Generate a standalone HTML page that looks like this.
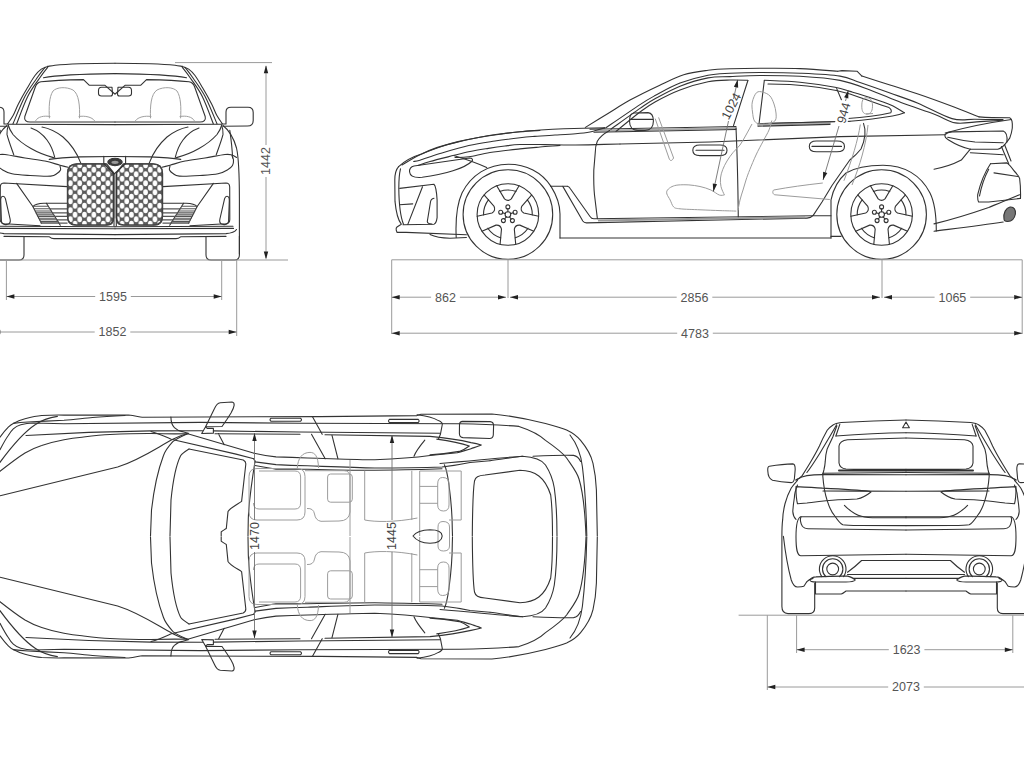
<!DOCTYPE html>
<html><head><meta charset="utf-8"><style>
html,body{margin:0;padding:0;background:#fff;}
body{width:1024px;height:768px;overflow:hidden;}
svg{display:block;}
.ln path,.ln circle,.ln ellipse,.ln rect{fill:none;stroke:#333;stroke-width:1.1;stroke-linejoin:round;stroke-linecap:round;}
.ln .hs{stroke:#555;stroke-width:1.2;}
.ln .hs2{stroke:#555;stroke-width:1.1;}
.ln path.g{stroke:#a0a0a0;stroke-width:1;}
.g path{fill:none;stroke:#9c9c9c;stroke-width:1;}
.d{fill:none;stroke:#9a9a9a;stroke-width:1;}
.dk{fill:none;stroke:#707070;stroke-width:0.9;}
.ar{fill:#222;stroke:none;}
text{font-family:"Liberation Sans",sans-serif;font-size:12.5px;fill:#555;}
.dt{fill:#444;}
</style></head><body>
<svg width="1024" height="768" viewBox="0 0 1024 768">
<defs>
<pattern id="mesh" x="68" y="163" width="9.4" height="9" patternUnits="userSpaceOnUse">
<rect width="9.4" height="9" fill="#5c5c5c"/>
<ellipse cx="2.35" cy="2.25" rx="2.3" ry="3.05" fill="#fff"/>
<ellipse cx="7.05" cy="6.75" rx="2.3" ry="3.05" fill="#fff"/>
<ellipse cx="7.05" cy="-2.25" rx="2.3" ry="3.05" fill="#fff"/>
<ellipse cx="2.35" cy="11.25" rx="2.3" ry="3.05" fill="#fff"/>
</pattern>
<clipPath id="cpL"><rect x="0" y="0" width="1024" height="768"/></clipPath>
</defs>
<g id="front" class="ln">
<g clip-path="url(#cpL)">

<path d="M115,73.6 C150,74 175,75.5 186.5,77.8"/>
<path d="M115.2,94 L125,85.3 L140.6,85.3 L146.5,79.6 C165,80 180,80.8 189,81.8 C192,82.3 193.5,84 194.5,86.5 L205.2,116.5 C206,120 204,122 200,122 L115,122"/>
<path d="M118,87.2 L128.5,87.2 Q131.5,87.2 131.5,90.5 L131.5,93.5 Q131.5,96 128.5,96 L119.5,96 Q117.5,96 117.5,94 Z"/>
<path d="M115,124.6 L221.6,124.2"/>
<path d="M221.6,124 L226,124 L226,112 Q226,107.2 231,107.2 L248,107.2 Q253.2,107.2 253.2,112.5 L253.2,120.5 Q253.2,126 247.5,126 L223,126.3"/>
<path d="M149.2,163.1 C153,153 159,144 167,137 C174,131.5 180,128.5 188,127"/>
<path d="M175.2,157.6 C177,150 180,144 183,140 C187,134.5 192,130.5 199,128"/>
<path d="M176.5,157.6 C186,155 193,152 199,148.5 C207,144 213,139 217,134.5 C219.5,131 221,128 221.6,125.5"/>
<path d="M216.2,154.9 C219,147 222,139 223,134.4 C223.2,130.5 222.5,127.5 221.6,125.5"/>
<path d="M223,125.5 C230,131 234,139 236.5,148 C238.6,157 239.4,170 239.4,200 L239.4,254"/>
<path d="M229.8,130.3 C231.2,140 232.3,150 232.6,158"/>
<path d="M162.9,186.6 L226,183 Q229.6,183 229.7,187 L229.8,219.5 Q229.8,223.4 225.5,223.8 L190,225.8"/>
<path d="M213.4,183.4 L197,206.7 L188.6,223.2"/>
<path d="M162.9,203.3 L186.1,203.3 Q194.5,203.5 197,206.7"/>
<path d="M183.6,203.3 L169.7,225.2"/>
<path class="hs" d="M162.9,208.8 L180.1,208.8 M162.9,212.9 L177.5,212.9 M162.9,216.4 L175.3,216.4 M162.9,219.8 L173.1,219.8 M162.9,223.1 L171.0,223.1"/>
<path class="hs2" d="M181.8,206.2 L197.3,206.2 M180.1,208.8 L195.9,208.8 M178.7,211.0 L194.8,211.0 M177.5,212.9 L193.9,212.9 M176.3,214.8 L192.9,214.8 M175.3,216.4 L192.1,216.4 M174.1,218.2 L191.2,218.2 M173.1,219.8 L190.4,219.8 M172.0,221.6 L189.5,221.6 M171.0,223.1 L188.8,223.1"/>
<path d="M227,196.2 C228.8,196.2 229.4,198 229.3,200.5 L228.6,221 C228.3,223.8 226.5,224.8 224,224.6 L221.5,224 C219.6,223.2 219.4,221.3 219.9,219 L224.6,198.6 C225.1,197 226,196.2 227,196.2 Z"/>
<path d="M115,226.8 L233,226.2"/>
<path d="M115,228.8 L233.5,228.4"/>
<path d="M115,234.6 L226,233.6 C231,233.2 234.5,232.5 236.5,229.5"/>
<path d="M115,238.6 L176,238.6 Q178.5,238.6 180.6,236.8 L226,236.4"/>
<path d="M206,237 L206,255 Q206,260 211,260 L234.5,260 Q239.4,260 239.4,255 L239.4,236"/>
<path d="M116.4,175.5 L116.4,218 Q116.4,225 123,225 L155,225 Q162.4,225 162.4,217 L162.4,173.5 Q162.4,163.8 152.5,163.8 L124.2,163.8 L116.4,174"/>
<path class="g" d="M150.5,117.9 C150,106 151,94 157,90 C164,86.5 173,87 177,91 C181,97 181.2,108 180.6,117.9 M135.5,120.6 C138,117 145,115.5 151,116.5 M180,116.5 C186,115.5 192,116.5 194.3,120.6"/>
<path d="M162.0,167.2 C163.3,166.9 166.2,166.2 170.0,165.2 C173.8,164.2 179.3,162.2 185.1,161.0 C190.9,159.8 198.3,159.1 205.0,158.0 C211.7,156.9 220.5,155.0 225.0,154.5 C229.5,154.0 230.1,154.5 232.0,155.0 C233.9,155.5 235.8,157.1 236.5,157.5"/><path d="M170.0,166.0 C169.9,166.7 169.0,168.8 169.5,170.0 C170.0,171.2 171.4,172.5 173.0,173.5 C174.6,174.5 174.8,175.8 179.3,176.1 C183.8,176.4 193.6,175.9 200.0,175.5 C206.4,175.1 213.3,174.8 218.0,173.8 C222.7,172.8 225.6,170.9 228.0,169.5 C230.4,168.1 231.6,167.2 232.5,165.6 C233.4,164.0 233.6,161.7 233.5,160.0 C233.4,158.3 232.2,156.2 232.0,155.5"/><path d="M115,156.5 L150,156.9 C165,157.5 175,158.5 180.8,159.4"/><path d="M115,63.3 C140,63.4 160,63.8 175,65.2 C178,65.6 180,66 182.3,66.4"/><path d="M182.3,66.4 C183.4,66.9 186.6,67.6 188.7,69.1 C190.8,70.6 192.7,72.5 195.0,75.5 C197.3,78.5 199.6,82.6 202.3,87.3 C205.1,92.0 209.1,99.1 211.5,103.8 C213.9,108.5 215.1,112.3 216.9,115.6 C218.7,118.9 221.5,122.4 222.4,123.8"/><path d="M182.3,67.3 C183.7,69.1 187.2,73.3 190.5,78.2 C193.8,83.1 198.5,88.9 202.3,96.5 C206.1,104.1 211.5,119.2 213.3,123.8"/><path d="M185.0,67.3 C186.4,69.1 189.8,73.3 193.2,78.2 C196.5,83.1 201.1,88.9 205.1,96.5 C209.1,104.1 215.0,119.2 217.0,123.8"/>
<g transform="translate(230,0) scale(-1,1)">
<path d="M115,73.6 C150,74 175,75.5 186.5,77.8"/>
<path d="M115.2,94 L125,85.3 L140.6,85.3 L146.5,79.6 C165,80 180,80.8 189,81.8 C192,82.3 193.5,84 194.5,86.5 L205.2,116.5 C206,120 204,122 200,122 L115,122"/>
<path d="M118,87.2 L128.5,87.2 Q131.5,87.2 131.5,90.5 L131.5,93.5 Q131.5,96 128.5,96 L119.5,96 Q117.5,96 117.5,94 Z"/>
<path d="M115,124.6 L221.6,124.2"/>
<path d="M221.6,124 L226,124 L226,112 Q226,107.2 231,107.2 L248,107.2 Q253.2,107.2 253.2,112.5 L253.2,120.5 Q253.2,126 247.5,126 L223,126.3"/>
<path d="M149.2,163.1 C153,153 159,144 167,137 C174,131.5 180,128.5 188,127"/>
<path d="M175.2,157.6 C177,150 180,144 183,140 C187,134.5 192,130.5 199,128"/>
<path d="M176.5,157.6 C186,155 193,152 199,148.5 C207,144 213,139 217,134.5 C219.5,131 221,128 221.6,125.5"/>
<path d="M216.2,154.9 C219,147 222,139 223,134.4 C223.2,130.5 222.5,127.5 221.6,125.5"/>
<path d="M223,125.5 C230,131 234,139 236.5,148 C238.6,157 239.4,170 239.4,200 L239.4,254"/>
<path d="M229.8,130.3 C231.2,140 232.3,150 232.6,158"/>
<path d="M162.9,186.6 L226,183 Q229.6,183 229.7,187 L229.8,219.5 Q229.8,223.4 225.5,223.8 L190,225.8"/>
<path d="M213.4,183.4 L197,206.7 L188.6,223.2"/>
<path d="M162.9,203.3 L186.1,203.3 Q194.5,203.5 197,206.7"/>
<path d="M183.6,203.3 L169.7,225.2"/>
<path class="hs" d="M162.9,208.8 L180.1,208.8 M162.9,212.9 L177.5,212.9 M162.9,216.4 L175.3,216.4 M162.9,219.8 L173.1,219.8 M162.9,223.1 L171.0,223.1"/>
<path class="hs2" d="M181.8,206.2 L197.3,206.2 M180.1,208.8 L195.9,208.8 M178.7,211.0 L194.8,211.0 M177.5,212.9 L193.9,212.9 M176.3,214.8 L192.9,214.8 M175.3,216.4 L192.1,216.4 M174.1,218.2 L191.2,218.2 M173.1,219.8 L190.4,219.8 M172.0,221.6 L189.5,221.6 M171.0,223.1 L188.8,223.1"/>
<path d="M227,196.2 C228.8,196.2 229.4,198 229.3,200.5 L228.6,221 C228.3,223.8 226.5,224.8 224,224.6 L221.5,224 C219.6,223.2 219.4,221.3 219.9,219 L224.6,198.6 C225.1,197 226,196.2 227,196.2 Z"/>
<path d="M115,226.8 L233,226.2"/>
<path d="M115,228.8 L233.5,228.4"/>
<path d="M115,234.6 L226,233.6 C231,233.2 234.5,232.5 236.5,229.5"/>
<path d="M115,238.6 L176,238.6 Q178.5,238.6 180.6,236.8 L226,236.4"/>
<path d="M206,237 L206,255 Q206,260 211,260 L234.5,260 Q239.4,260 239.4,255 L239.4,236"/>
<path d="M116.4,175.5 L116.4,218 Q116.4,225 123,225 L155,225 Q162.4,225 162.4,217 L162.4,173.5 Q162.4,163.8 152.5,163.8 L124.2,163.8 L116.4,174"/>
<path class="g" d="M150.5,117.9 C150,106 151,94 157,90 C164,86.5 173,87 177,91 C181,97 181.2,108 180.6,117.9 M135.5,120.6 C138,117 145,115.5 151,116.5 M180,116.5 C186,115.5 192,116.5 194.3,120.6"/>
<path d="M162.0,167.2 C163.3,166.9 166.2,166.2 170.0,165.2 C173.8,164.2 179.3,162.2 185.1,161.0 C190.9,159.8 198.3,159.1 205.0,158.0 C211.7,156.9 220.5,155.0 225.0,154.5 C229.5,154.0 230.1,154.5 232.0,155.0 C233.9,155.5 235.8,157.1 236.5,157.5"/><path d="M170.0,166.0 C169.9,166.7 169.0,168.8 169.5,170.0 C170.0,171.2 171.4,172.5 173.0,173.5 C174.6,174.5 174.8,175.8 179.3,176.1 C183.8,176.4 193.6,175.9 200.0,175.5 C206.4,175.1 213.3,174.8 218.0,173.8 C222.7,172.8 225.6,170.9 228.0,169.5 C230.4,168.1 231.6,167.2 232.5,165.6 C233.4,164.0 233.6,161.7 233.5,160.0 C233.4,158.3 232.2,156.2 232.0,155.5"/><path d="M115,156.5 L150,156.9 C165,157.5 175,158.5 180.8,159.4"/><path d="M115,63.3 C140,63.4 160,63.8 175,65.2 C178,65.6 180,66 182.3,66.4"/><path d="M182.3,66.4 C183.4,66.9 186.6,67.6 188.7,69.1 C190.8,70.6 192.7,72.5 195.0,75.5 C197.3,78.5 199.6,82.6 202.3,87.3 C205.1,92.0 209.1,99.1 211.5,103.8 C213.9,108.5 215.1,112.3 216.9,115.6 C218.7,118.9 221.5,122.4 222.4,123.8"/><path d="M182.3,67.3 C183.7,69.1 187.2,73.3 190.5,78.2 C193.8,83.1 198.5,88.9 202.3,96.5 C206.1,104.1 211.5,119.2 213.3,123.8"/><path d="M185.0,67.3 C186.4,69.1 189.8,73.3 193.2,78.2 C196.5,83.1 201.1,88.9 205.1,96.5 C209.1,104.1 215.0,119.2 217.0,123.8"/></g>
</g>
<path d="M77,164 L106.5,164 L113.4,172.8 L113.4,217.5 Q113.4,225 106,225 L76.6,225 Q67.6,225 67.6,216 L67.6,173.5 Q67.6,164 77,164 Z" style="fill:url(#mesh);stroke:#444;stroke-width:1.6"/>
<path d="M153,164 L123.5,164 L116.6,172.8 L116.6,217.5 Q116.6,225 124,225 L153.4,225 Q162.4,225 162.4,216 L162.4,173.5 Q162.4,164 153,164 Z" style="fill:url(#mesh);stroke:#444;stroke-width:1.6"/>

<path d="M103.8,156.3 L103.8,163.5 L114.2,174 L125.6,163.5 L125.6,156.3"/>
<ellipse cx="115" cy="162" rx="7.2" ry="3.7" style="fill:#3a3a3a"/>
<ellipse cx="115" cy="162.3" rx="3.6" ry="1.6" style="fill:#999;stroke:none"/>
<path d="M114,174 L114,226 M116.3,174 L116.3,226"/>

</g>
<g id="side" class="ln">

<path d="M398.6,166.6 C405,160.5 413,156.5 422.2,153.7 C433,148.5 444,145 454.4,142.9 C468,139.5 483,136.3 497.4,134.3 C512,132.3 526,130.8 540.4,130 C556,129.2 570,128.6 583.3,128.3 L604.8,127.9"/>





<path d="M945.2,133 C965,127.5 990,122.5 1011.4,119.5"/>

<path d="M768,84 L790,84.5 C815,86 835,89.5 850,94 C865,99 878,104 889,107.6 C891,109 892,111 890.8,112.7 C878,115.5 862,117.5 848,118.5"/>
<path d="M747.9,80.5 L733.5,125.6 M764.3,80.5 L758.8,125.6 M836.7,88.6 L841.5,100"/>
<path d="M590,129.2 L700,127.3 L736,126.6 M758,123.6 L830,121.7 L850,121.2"/>
<path d="M596,130.7 L700,128.8 L736,128 M758,124.9 L830,123" style="stroke:#aaa;stroke-width:2"/>
<path d="M594,132.2 L700,130.3 L736,129.5 M758,126.2 L830,124.4"/>
<path d="M409.6,172 C409,169 411,166.5 414,166 L469.5,158 C472.5,158 473.5,160 471.6,161.5 C465,168 445,174.5 422.2,177.3 C414,178 410,176 409.6,172 Z"/>
<path d="M454.4,155.8 C465,159 477,163 486.7,167.6"/>
<path d="M398.6,166.6 C395.5,170 394.8,174 394.8,180 L395,201.4 C396,212 398,220 401.3,224.2 L397,227 Q395.8,228 396.2,230 L397,232.4 L406.2,232.4 L466.4,234.8"/>
<path d="M400.5,168.9 C399,175 398.8,182 398.8,188.4 C399,205 401,218 403.5,224.2"/>
<path d="M399.7,188.4 L433.9,184.3 C436,186 436.5,190 437.1,200 L437.1,217.7 C436.5,222 435,224 433.9,224.3 L403,224.8"/>
<path d="M422.5,186.8 L407.8,224.4"/>
<path d="M434,198.2 C431.5,198.6 430.6,200 430.4,202.5 L427.3,221.5 C427.4,223.6 429.5,224 432,224"/>
<path d="M399.5,204.7 L412.7,203.9"/>
<path d="M430,234.6 C436,237.5 442,238.2 450,238.2 L466.4,237.5"/>
<path d="M456.2,237.5 C455.5,222 456.5,205 462,193 C471,175 488,164.2 508.5,164.2 C526,164.2 542,172 551,186.4 C557,196 560,205 560,214 L560,238"/>
<path d="M550.5,186.2 L567.3,186.2"/>
<path d="M562.8,186.4 L582.8,221 Q584,222.9 586.5,222.9 L807,218.1 Q811,218 813.2,215.4"/>
<path d="M567.3,186.2 Q569,186.5 570,188.2 L590,216.5 Q591.5,218.8 593.8,218.8 L813.2,215.8 L831,215.8"/>
<path d="M560,238 L831,238 M831,236.4 L841,236.4"/>
<path d="M831,238 L831,200 C833,190 838,180 846,173 C856,167 868,165.2 883,165.2 C904,165.2 921,175 930,193 C935,203 936.3,215 936.3,231"/>
<path d="M609.6,130.4 C603,134 599,138 597.3,141.3 C595.8,145 595.3,148 595.3,152 L593.8,170 C593.6,180 594,190 594.5,195 L597.4,218.8"/>
<path d="M736,128 C737.5,160 738,190 738.3,218"/>
<path d="M863.5,123.4 C866,130 865,140 861,149 C857,154 853,157.5 849.8,160 L832,185.5 L822,202 L813.2,215.4"/>
<path d="M692.8,150.2 C692.8,146.5 696,145 700,145 L720,145 C724.5,145 727,147 727,150.2 C727,153.5 724.5,155.6 720,155.6 L700,155.6 C696,155.6 692.8,153.8 692.8,150.2 Z M696,150.2 L724,150.2"/>
<path d="M809.3,146.4 C809.3,142.6 812.5,141 816.5,141 L837,141 C841.5,141 844.5,143 844.5,146.4 C844.5,149.8 841.5,151.7 837,151.7 L816.5,151.7 C812.5,151.7 809.3,150 809.3,146.4 Z M812,146.4 L841.5,146.4"/>
<path d="M634,113 L648,112.6 C652,113 653.4,116 653.4,121 C653.4,127 651,130.4 645,130.4 L638,130.4 C632,130.4 629.5,126 629.5,121 C629.5,116 631,113.2 634,113 Z M630,119.4 L653.4,119.2"/>
<path d="M945,134.6 C947,132.5 950,132 952.2,131.9 L1003.2,131 C1006,132 1007.5,136 1006.9,141.9 C1004,146 1001,148.5 997.8,149.2 L970.4,149.2 C962,147.5 955,144 948.6,140 C946,138.5 944.5,136.5 945,134.6 Z"/>
<path d="M947.7,137.3 C955,139 965,141 975,142 L1003.2,142.8"/>
<path d="M970.4,152.8 L1003.2,154.7"/>
<path d="M970.4,149.2 C967,153 964,157 961.3,160.1 C952,165 944,167.5 934,169.2"/>
<path d="M1001.4,146.5 L1008.7,163.8 M1004.5,144.5 L1011,161"/>
<path d="M990.5,163.8 L1006.9,162.9 C1010,165 1012,168 1014.2,171 C1017,174 1019,176.5 1019.6,178.3 C1020.5,185 1020.7,191 1020.5,198.4"/>
<path d="M990.5,163.8 C985,172 980,185 977.7,194.7 C977.5,198 977.8,200.5 978.6,202 L988.7,202 L1020.5,198.4"/>
<path d="M988.7,169.2 C984,178 981,188 979.5,196"/>
<path d="M994,172.9 L1017.8,176.5"/>
<path d="M934,223.9 C950,220 970,214 988.7,207.5 C997,204 1004,201 1010.5,198.4 L1019.6,194.7"/>
<path d="M1004,219 C1003,213 1006,208 1010,207 C1014,206.5 1016,210 1015.4,214 C1014.5,219 1011,221.5 1007.5,221.5 C1005,221.5 1004,220.5 1004,219 Z" style="fill:#777"/>
<path d="M934,231.2 C955,228.5 980,225.5 1003.2,222"/>
<path d="M585.4,127.4 C589.2,125.1 600.6,118.0 608.0,113.5 C615.4,109.0 621.5,104.8 630.0,100.1 C638.5,95.4 650.3,89.6 659.3,85.4 C668.2,81.2 675.6,77.2 683.7,74.7 C691.8,72.2 700.4,71.3 708.1,70.3 C715.8,69.3 721.4,69.1 730.0,68.8 C738.6,68.5 748.3,68.3 760.0,68.3 C771.7,68.3 787.0,68.1 800.0,68.6 C813.0,69.1 831.4,70.8 837.7,71.3"/><path d="M837.7,71.3 L842,70.6 L857,71.2 L861.9,76.1"/><path d="M861.9,76.1 C866.6,77.6 880.6,82.0 890.0,85.0 C899.4,88.0 908.0,90.6 918.0,94.0 C928.0,97.4 939.8,101.7 950.0,105.5 C960.2,109.3 974.2,115.0 979.1,116.9"/><path d="M979.1,116.9 C990,117.8 1000,117.8 1009.7,117.8 C1012.5,119 1012.6,123 1012.3,128 C1011.8,132 1011,135 1009.7,138.2 L1006.9,141.9"/><path d="M605.9,127.8 C611.6,123.9 631.8,110.0 640.0,104.6 C648.2,99.2 648.3,99.2 655.0,95.6 C661.7,92.0 671.2,86.5 680.0,83.1 C688.8,79.7 699.7,76.8 708.0,75.2 C716.3,73.6 721.3,73.7 730.0,73.2 C738.7,72.8 748.3,72.5 760.0,72.5 C771.7,72.5 786.7,72.6 800.0,73.2 C813.3,73.8 830.0,74.5 840.0,76.1 C850.0,77.6 851.7,79.7 860.0,82.5 C868.3,85.3 880.3,89.5 890.0,93.0 C899.7,96.5 907.7,99.0 918.0,103.3 C928.3,107.6 942.5,115.9 952.0,118.6 C961.5,121.3 966.5,119.1 975.0,119.3 C983.5,119.5 998.3,119.5 1003.0,119.5"/><path d="M610.9,129.2 C615.8,125.7 632.6,113.5 640.0,108.4 C647.4,103.3 648.3,102.4 655.0,98.8 C661.7,95.1 671.2,89.7 680.0,86.2 C688.8,82.8 699.7,79.5 708.0,77.9 C716.3,76.3 721.3,77.0 730.0,76.6 C738.7,76.2 748.3,75.5 760.0,75.5 C771.7,75.5 786.7,75.5 800.0,76.3 C813.3,77.1 828.3,78.1 840.0,80.4 C851.7,82.7 859.8,86.3 870.0,90.0 C880.2,93.7 890.2,98.4 901.0,102.5 C911.8,106.6 925.9,111.0 935.0,114.4 C944.1,117.8 947.9,121.7 955.4,122.9 C962.9,124.1 972.1,122.0 980.0,121.6 C987.9,121.2 999.2,120.5 1003.0,120.3"/><path d="M616.0,131.4 C620.0,128.2 633.5,116.9 640.0,112.0 C646.5,107.1 648.3,105.6 655.0,101.9 C661.7,98.2 671.2,93.2 680.0,89.9 C688.8,86.6 699.7,83.5 708.0,81.8 C716.3,80.1 723.4,80.2 730.0,80.0 C736.6,79.8 744.9,80.2 747.9,80.3"/><path d="M764.3,80.3 C770.2,80.6 788.2,81.1 800.0,82.3 C811.8,83.5 826.7,85.8 835.0,87.3 C843.3,88.8 844.2,89.7 850.0,91.4 C855.8,93.1 863.2,95.2 870.0,97.5 C876.8,99.8 885.1,102.5 890.8,105.0 C896.5,107.5 902.1,111.4 904.4,112.7"/><path d="M904.4,112.7 C900,114.5 896,115.5 892.5,116 C878,118.5 865,120 850,121.2 L765,123.5"/><path d="M413.6,161.5 C414.7,161.3 415.6,161.5 420.0,160.2 C424.4,158.9 431.9,155.9 440.0,153.5 C448.1,151.1 459.6,147.6 468.8,145.5 C478.0,143.4 486.5,142.3 495.0,141.0 C503.5,139.7 513.4,138.5 520.0,137.7 C526.6,136.9 528.9,136.8 534.7,136.4 C540.5,136.0 548.2,135.4 555.0,135.0 C561.8,134.6 569.9,134.2 575.7,133.7 C581.5,133.2 586.6,132.6 590.0,132.0 C593.4,131.4 593.7,131.0 596.2,130.3 C598.7,129.6 603.4,128.3 604.8,127.9"/><path d="M418.0,165.5 C420.0,164.8 424.0,163.2 430.0,161.5 C436.0,159.8 447.5,157.0 454.2,155.3 C460.9,153.6 464.3,152.7 470.0,151.5 C475.7,150.3 482.6,149.3 488.4,148.4 C494.2,147.5 499.7,146.7 505.0,146.0 C510.3,145.3 513.3,144.7 520.0,144.5 C526.7,144.3 536.7,144.5 545.0,144.6 C553.3,144.7 561.5,145.0 570.0,145.0 C578.5,145.0 587.9,144.8 596.2,144.6 C604.5,144.4 616.0,144.1 620.0,144.0"/><path d="M620,144 L710,142 L840,136.6 L945,134.8"/><path d="M455.0,157.5 C457.3,157.4 463.0,157.6 468.8,156.8 C474.6,156.0 481.5,153.8 490.0,152.5 C498.5,151.2 511.7,149.8 520.0,148.9 C528.3,148.0 533.3,147.6 540.0,147.0 C546.7,146.4 556.7,145.7 560.0,145.4"/><path d="M402.0,165.0 C404.8,163.4 412.7,158.2 419.0,155.2 C425.3,152.2 433.5,149.3 440.0,147.0 C446.5,144.7 451.3,143.2 458.0,141.6 C464.7,140.0 473.0,138.4 480.0,137.2 C487.0,136.0 493.3,135.1 500.0,134.2 C506.7,133.3 513.3,132.4 520.0,131.8 C526.7,131.2 536.7,130.7 540.0,130.5"/>
<circle cx="507.9" cy="214.5" r="44.8"/>
<circle cx="507.9" cy="214.5" r="30.8"/>
<circle cx="507.9" cy="214.5" r="2.8"/>
<circle cx="507.9" cy="206.9" r="2"/>
<path d="M507.9,211.7 L507.9,208.9"/>
<circle cx="515.1" cy="212.2" r="2"/>
<path d="M510.6,213.6 L513.2,212.8"/>
<circle cx="512.4" cy="220.6" r="2"/>
<path d="M509.5,216.8 L511.2,219.0"/>
<circle cx="503.4" cy="220.6" r="2"/>
<path d="M506.3,216.8 L504.6,219.0"/>
<circle cx="500.7" cy="212.2" r="2"/>
<path d="M505.2,213.6 L502.6,212.8"/>
<path transform="translate(507.9,214.5) rotate(0)" d="M-11.2,-28.7 L-3.4,-15.6 Q0,-12.6 3.4,-15.6 L11.2,-28.7 M-8.2,-23 A24.5,24.5 0 0 1 8.2,-23"/>
<path transform="translate(507.9,214.5) rotate(72)" d="M-11.2,-28.7 L-3.4,-15.6 Q0,-12.6 3.4,-15.6 L11.2,-28.7 M-8.2,-23 A24.5,24.5 0 0 1 8.2,-23"/>
<path transform="translate(507.9,214.5) rotate(144)" d="M-11.2,-28.7 L-3.4,-15.6 Q0,-12.6 3.4,-15.6 L11.2,-28.7 M-8.2,-23 A24.5,24.5 0 0 1 8.2,-23"/>
<path transform="translate(507.9,214.5) rotate(216)" d="M-11.2,-28.7 L-3.4,-15.6 Q0,-12.6 3.4,-15.6 L11.2,-28.7 M-8.2,-23 A24.5,24.5 0 0 1 8.2,-23"/>
<path transform="translate(507.9,214.5) rotate(288)" d="M-11.2,-28.7 L-3.4,-15.6 Q0,-12.6 3.4,-15.6 L11.2,-28.7 M-8.2,-23 A24.5,24.5 0 0 1 8.2,-23"/>
<circle cx="881.6" cy="214.5" r="44.8"/>
<circle cx="881.6" cy="214.5" r="30.8"/>
<circle cx="881.6" cy="214.5" r="2.8"/>
<circle cx="881.6" cy="206.9" r="2"/>
<path d="M881.6,211.7 L881.6,208.9"/>
<circle cx="888.8" cy="212.2" r="2"/>
<path d="M884.3,213.6 L886.9,212.8"/>
<circle cx="886.1" cy="220.6" r="2"/>
<path d="M883.2,216.8 L884.9,219.0"/>
<circle cx="877.1" cy="220.6" r="2"/>
<path d="M880.0,216.8 L878.3,219.0"/>
<circle cx="874.4" cy="212.2" r="2"/>
<path d="M878.9,213.6 L876.3,212.8"/>
<path transform="translate(881.6,214.5) rotate(0)" d="M-11.2,-28.7 L-3.4,-15.6 Q0,-12.6 3.4,-15.6 L11.2,-28.7 M-8.2,-23 A24.5,24.5 0 0 1 8.2,-23"/>
<path transform="translate(881.6,214.5) rotate(72)" d="M-11.2,-28.7 L-3.4,-15.6 Q0,-12.6 3.4,-15.6 L11.2,-28.7 M-8.2,-23 A24.5,24.5 0 0 1 8.2,-23"/>
<path transform="translate(881.6,214.5) rotate(144)" d="M-11.2,-28.7 L-3.4,-15.6 Q0,-12.6 3.4,-15.6 L11.2,-28.7 M-8.2,-23 A24.5,24.5 0 0 1 8.2,-23"/>
<path transform="translate(881.6,214.5) rotate(216)" d="M-11.2,-28.7 L-3.4,-15.6 Q0,-12.6 3.4,-15.6 L11.2,-28.7 M-8.2,-23 A24.5,24.5 0 0 1 8.2,-23"/>
<path transform="translate(881.6,214.5) rotate(288)" d="M-11.2,-28.7 L-3.4,-15.6 Q0,-12.6 3.4,-15.6 L11.2,-28.7 M-8.2,-23 A24.5,24.5 0 0 1 8.2,-23"/>
</g>
<g class="g">
<path d="M655.2,118.6 L669.4,159.3 Q671.2,162.3 673.6,158 L658.6,117.4"/>

<path d="M773.6,190 C790,187 805,185 822.8,183 M773.6,190 C772,192 773,194.5 775,194.8 L829.8,199.5"/>
<path d="M860.3,124.5 C858,140 852,160 843.9,180.8 M868,125 C866,145 860,165 852,185"/>
<path d="M866,97.8 C870,97.5 872.3,100 872.5,105 C872.6,110 871.5,114 867,114 C863,114 861.8,111 861.8,106 C861.8,100.5 863,98 866,97.8 Z M866,114 L873,113.5"/>
<path d="M756.6,92.6 C758.4,91.0 760.8,91.6 763.0,92.2 C765.2,92.8 768.2,94.0 770.0,96.0 C771.8,98.0 773.0,101.2 774.0,104.0 C775.0,106.8 775.8,110.3 776.0,113.0 C776.2,115.7 776.5,118.2 775.5,120.0 C774.5,121.8 772.6,122.8 770.0,123.5 C767.4,124.2 762.6,124.4 760.0,124.0 C757.4,123.6 755.8,123.0 754.5,121.0 C753.2,119.0 752.9,115.2 752.5,112.0 C752.1,108.8 751.6,105.2 752.3,102.0 C753.0,98.8 754.8,94.2 756.6,92.6 Z"/><path d="M771.8,120.5 C771.3,122.1 770.4,126.6 769.0,130.0 C767.6,133.4 765.5,136.7 763.3,140.9 C761.1,145.1 758.2,150.2 756.0,155.0 C753.8,159.8 751.5,165.4 749.8,169.6 C748.1,173.8 747.1,176.6 746.0,180.0 C744.9,183.4 744.0,186.7 743.0,190.0 C742.0,193.3 740.8,196.6 740.0,200.0 C739.2,203.4 738.3,208.6 738.0,210.3"/><path d="M752.0,124.0 C751.0,125.8 748.0,131.5 746.0,135.0 C744.0,138.5 742.2,142.1 740.0,145.0 C737.8,147.9 735.1,150.0 732.9,152.7 C730.7,155.4 728.7,158.2 727.0,161.0 C725.3,163.8 723.8,166.8 722.7,169.6 C721.6,172.4 720.8,175.2 720.5,178.0 C720.2,180.8 720.4,183.8 721.0,186.6 C721.6,189.4 723.8,193.6 724.4,195.0"/><path d="M724.4,195.0 C723.5,195.0 721.5,195.8 719.3,195.0 C717.0,194.2 714.1,191.4 710.9,190.0 C707.7,188.6 703.7,187.3 700.0,186.5 C696.3,185.7 692.6,185.2 688.9,184.9 C685.2,184.7 680.8,184.7 678.0,185.0 C675.2,185.3 673.8,185.8 672.0,186.6 C670.2,187.4 668.4,188.8 667.5,190.0 C666.6,191.2 666.4,192.3 666.9,194.0 C667.4,195.7 669.1,197.9 670.2,200.1 C671.3,202.2 672.0,205.4 673.6,206.9 C675.2,208.4 675.6,208.3 680.0,208.8 C684.4,209.3 693.3,209.5 700.0,209.8 C706.7,210.1 714.0,210.4 720.0,210.6 C726.0,210.8 733.6,211.0 736.3,211.1"/></g>
<path d="M598,220.4 L805,217.2" style="stroke:#9a9a9a;stroke-width:2;fill:none"/>
<g id="top" class="ln">

<path d="M0,437.2 C3,433 6,429.5 8.3,427.2 C10,425.5 11.5,424.3 13.3,423.4 C17,421.3 21,419.8 25,418.8 C31,417.2 36,416 41.7,415.5 C50,415 57,415 64,415.1 L128.5,415 C135,415.5 139,417 142.2,417.2 L320,416.6 L417,415.6 L421,414.2 L491.9,414 C510,415.6 525,418.3 545.5,423.5 C555,426 562,428 566.6,430 C573,433 577,436 580.6,440.4 C587,448 591,455 593,463.3 C595,472 596,480 596.4,490 L597.3,536"/>
<path d="M0,449.7 C3,444 6,438.5 8.3,435.5 C10,432.5 11.5,430.5 13.3,428.8 C15.5,426.8 18,425.5 20.8,424.7 C25,423.5 29,423 33.3,423 L64,423.8 L200,422.4 L300,423.2 L460,423.8 C480,424.2 500,425 519,426.4 C530,430 540,435 545.5,440.4 C555,447 562,452 566.6,458 C572,466 577,472 579,479 C583,492 585,510 586,536"/>
<path d="M0,462.3 C12,446 24,432 35.5,424.5 C42,420 50,417.5 57.4,416.4"/>
<path d="M13.3,423.4 C18,422.8 22,422.4 28,422 C40,421.4 52,420.9 64,420.3 C75,419.5 85,418 92.5,417.5 C102,416.8 112,416.2 125,415.5"/>
<path d="M26,435.5 C60,433.5 110,431.5 151,430.9 L202.5,430.8 M213.4,430.9 L300,432 L440,433.2"/>
<path d="M215,433.7 L300,434.3 M218.4,433.7 L224.2,444.7"/>
<path d="M0,471.3 C8,465 17,458 25,453 C31,449.5 36,447.3 41.7,445.5 C49,443 57,441 64,439.7 C70,438.6 76,437.8 82,437.2 C92,436 100,435 110,434.5 C125,433.8 138,433.4 151,433.5 C162,433.8 176,434 188,433.7"/>
<path d="M0,495.7 C40,486 80,476 117.6,467 C140,460 158,447 172.8,439.3 C178,436.5 183,434.5 188.4,433.5"/>
<path d="M170.9,417.1 C171,422 172,425.5 174.4,427.6 C177,430 180,431.3 182.2,431.6 C184,432.2 186,432.8 188.4,433.3"/>
<path d="M186.9,433.5 L254.2,453.2"/>
<path d="M151,431.5 C160,434 166,437 171.25,439.3 L236,454.1 L253.8,458.7"/>
<path d="M186.9,433.9 C180,437 176,439 172.8,441.7 C168,447 165,451 163.4,455.75 C158,470 154,488 151.5,510 L150.5,536"/>
<path d="M189,449 L243.25,460 Q246,461.5 245.8,464.2 L241.6,501.4 C236,505 230,508 228,511.6 L226.3,528.5 C224,530 222,531 221.2,531.9 L221.2,536"/>
<path d="M189,449 C185,451.5 182,453.5 180.6,455.75 C176,465 173,480 171,500 L170,536"/>
<path d="M255.1,460.8 C252,480 249,500 248.3,518.3 L248,536"/>
<path d="M253.8,458.7 C254.5,460.5 254.8,461.5 255.1,461.9 C262,462.8 270,463.8 276,464.6 C288,465.3 298,465.6 307.4,465.8 C330,466.6 355,467.6 374.8,468 C400,468 425,467.6 442,467 C455,465.5 463,464 470,462.5 L490,460.7"/>
<path d="M255.1,465.5 C262,466.8 270,468.3 276,469.2 C290,469.4 300,469.3 307.4,469.2 C330,469.8 355,470.3 374.8,470.3 C400,470 425,469.5 442,468.8"/>
<path d="M254.2,453.2 C262,455 270,456.3 276,456.9 C290,457.5 300,457.8 307.4,458 C330,458.6 355,459.6 374.8,459.8 C395,459 415,457.5 430,455.5 C440,454.5 450,453.5 457.3,452.8 C463,451 468,449.8 471,448.7 C475,447.3 479,446 481.3,445 C478,444 474.5,443.2 471,442.6 C460,440 445,437.8 430,436.4 L325,434.8"/>
<path d="M436.8,439.1 C450,441 462,443.5 469.3,446 C466,448.5 462,450.5 459.4,451.4 C450,453 440,454.3 430,454.9"/>
<path d="M424.8,440.2 C420,446 416,451 414,456.2"/>
<path d="M417,414.8 C428,416 434,418 438.4,420.6 C441.5,422 442.6,423 442.3,424.5 L440.4,434.3 L438.4,439.2"/>
<path d="M312.5,416.7 L322.2,434.3 M311.5,434.3 L325.2,458.7 M332,435.3 L337.9,458.7"/>
<path d="M490,460.7 C500,459.5 512,457.5 522.6,456.25"/>
<path d="M440,463.5 C480,460 510,457 522.6,456.25 C535,457 542,460 545.5,465 C550,472 553,480 554.3,488 C556,500 557,515 557,536"/>
<path d="M444.4,464.7 C447,470 448,478 449,485 C451,500 452.3,515 452.3,529.8 L452.5,536"/>
<path d="M472.3,536 C472.5,510 473,490 474.5,481 C475.5,477 478,475.5 485,475 L520,470.3 C535,470.5 545,477 550.7,495 C552,505 552.5,520 552.5,536"/>
<path d="M533,456.25 C550,455.5 565,455 573.6,455.4 C577,456 579,458 580.6,461.5"/>
<path d="M570,435 C578,445 581,455 582.4,466.8 C584,480 586,500 586.8,536"/>
<path d="M205.6,426.8 L214.5,408.5 C216,405 218,403 220.3,402.7 L232,402 C235.5,402.5 234.5,407 231,413 L227,419.3 L222,426.5 Z"/>
<path d="M201.7,433.5 L205.6,426.8 L207.2,428.4 L213.4,428.4 L213.4,433.1 Z"/>
<path d="M271,418.2 L300.5,418.2 Q302.5,419.7 300.5,421.2 L271,421.2 Q269,419.7 271,418.2 Z"/>
<path d="M389.4,419.4 L418.2,419.4 Q420,421 418.2,422.6 L389.4,422.6 Q387.7,421 389.4,419.4 Z"/>

<g transform="translate(0,1073) scale(1,-1)">
<path d="M0,437.2 C3,433 6,429.5 8.3,427.2 C10,425.5 11.5,424.3 13.3,423.4 C17,421.3 21,419.8 25,418.8 C31,417.2 36,416 41.7,415.5 C50,415 57,415 64,415.1 L128.5,415 C135,415.5 139,417 142.2,417.2 L320,416.6 L417,415.6 L421,414.2 L491.9,414 C510,415.6 525,418.3 545.5,423.5 C555,426 562,428 566.6,430 C573,433 577,436 580.6,440.4 C587,448 591,455 593,463.3 C595,472 596,480 596.4,490 L597.3,536"/>
<path d="M0,449.7 C3,444 6,438.5 8.3,435.5 C10,432.5 11.5,430.5 13.3,428.8 C15.5,426.8 18,425.5 20.8,424.7 C25,423.5 29,423 33.3,423 L64,423.8 L200,422.4 L300,423.2 L460,423.8 C480,424.2 500,425 519,426.4 C530,430 540,435 545.5,440.4 C555,447 562,452 566.6,458 C572,466 577,472 579,479 C583,492 585,510 586,536"/>
<path d="M0,462.3 C12,446 24,432 35.5,424.5 C42,420 50,417.5 57.4,416.4"/>
<path d="M13.3,423.4 C18,422.8 22,422.4 28,422 C40,421.4 52,420.9 64,420.3 C75,419.5 85,418 92.5,417.5 C102,416.8 112,416.2 125,415.5"/>
<path d="M26,435.5 C60,433.5 110,431.5 151,430.9 L202.5,430.8 M213.4,430.9 L300,432 L440,433.2"/>
<path d="M215,433.7 L300,434.3 M218.4,433.7 L224.2,444.7"/>
<path d="M0,471.3 C8,465 17,458 25,453 C31,449.5 36,447.3 41.7,445.5 C49,443 57,441 64,439.7 C70,438.6 76,437.8 82,437.2 C92,436 100,435 110,434.5 C125,433.8 138,433.4 151,433.5 C162,433.8 176,434 188,433.7"/>
<path d="M0,495.7 C40,486 80,476 117.6,467 C140,460 158,447 172.8,439.3 C178,436.5 183,434.5 188.4,433.5"/>
<path d="M170.9,417.1 C171,422 172,425.5 174.4,427.6 C177,430 180,431.3 182.2,431.6 C184,432.2 186,432.8 188.4,433.3"/>
<path d="M186.9,433.5 L254.2,453.2"/>
<path d="M151,431.5 C160,434 166,437 171.25,439.3 L236,454.1 L253.8,458.7"/>
<path d="M186.9,433.9 C180,437 176,439 172.8,441.7 C168,447 165,451 163.4,455.75 C158,470 154,488 151.5,510 L150.5,536"/>
<path d="M189,449 L243.25,460 Q246,461.5 245.8,464.2 L241.6,501.4 C236,505 230,508 228,511.6 L226.3,528.5 C224,530 222,531 221.2,531.9 L221.2,536"/>
<path d="M189,449 C185,451.5 182,453.5 180.6,455.75 C176,465 173,480 171,500 L170,536"/>
<path d="M255.1,460.8 C252,480 249,500 248.3,518.3 L248,536"/>
<path d="M253.8,458.7 C254.5,460.5 254.8,461.5 255.1,461.9 C262,462.8 270,463.8 276,464.6 C288,465.3 298,465.6 307.4,465.8 C330,466.6 355,467.6 374.8,468 C400,468 425,467.6 442,467 C455,465.5 463,464 470,462.5 L490,460.7"/>
<path d="M255.1,465.5 C262,466.8 270,468.3 276,469.2 C290,469.4 300,469.3 307.4,469.2 C330,469.8 355,470.3 374.8,470.3 C400,470 425,469.5 442,468.8"/>
<path d="M254.2,453.2 C262,455 270,456.3 276,456.9 C290,457.5 300,457.8 307.4,458 C330,458.6 355,459.6 374.8,459.8 C395,459 415,457.5 430,455.5 C440,454.5 450,453.5 457.3,452.8 C463,451 468,449.8 471,448.7 C475,447.3 479,446 481.3,445 C478,444 474.5,443.2 471,442.6 C460,440 445,437.8 430,436.4 L325,434.8"/>
<path d="M436.8,439.1 C450,441 462,443.5 469.3,446 C466,448.5 462,450.5 459.4,451.4 C450,453 440,454.3 430,454.9"/>
<path d="M424.8,440.2 C420,446 416,451 414,456.2"/>
<path d="M417,414.8 C428,416 434,418 438.4,420.6 C441.5,422 442.6,423 442.3,424.5 L440.4,434.3 L438.4,439.2"/>
<path d="M312.5,416.7 L322.2,434.3 M311.5,434.3 L325.2,458.7 M332,435.3 L337.9,458.7"/>
<path d="M490,460.7 C500,459.5 512,457.5 522.6,456.25"/>
<path d="M440,463.5 C480,460 510,457 522.6,456.25 C535,457 542,460 545.5,465 C550,472 553,480 554.3,488 C556,500 557,515 557,536"/>
<path d="M444.4,464.7 C447,470 448,478 449,485 C451,500 452.3,515 452.3,529.8 L452.5,536"/>
<path d="M472.3,536 C472.5,510 473,490 474.5,481 C475.5,477 478,475.5 485,475 L520,470.3 C535,470.5 545,477 550.7,495 C552,505 552.5,520 552.5,536"/>
<path d="M533,456.25 C550,455.5 565,455 573.6,455.4 C577,456 579,458 580.6,461.5"/>
<path d="M570,435 C578,445 581,455 582.4,466.8 C584,480 586,500 586.8,536"/>
<path d="M205.6,426.8 L214.5,408.5 C216,405 218,403 220.3,402.7 L232,402 C235.5,402.5 234.5,407 231,413 L227,419.3 L222,426.5 Z"/>
<path d="M201.7,433.5 L205.6,426.8 L207.2,428.4 L213.4,428.4 L213.4,433.1 Z"/>
<path d="M271,418.2 L300.5,418.2 Q302.5,419.7 300.5,421.2 L271,421.2 Q269,419.7 271,418.2 Z"/>
<path d="M389.4,419.4 L418.2,419.4 Q420,421 418.2,422.6 L389.4,422.6 Q387.7,421 389.4,419.4 Z"/>
</g>
<path d="M462.5,421.4 L490,421.6 Q493.6,422 493.6,425.5 L493.3,435 Q493,438.5 489.5,438.5 L463,437.6 Q459.4,437.2 459.4,433.5 L459.5,424.5 Q459.7,421.4 462.5,421.4 Z"/>
</g>
<g class="g">
<path d="M257,468.5 L297,468.5 Q305,468.5 305,476.5 L305,512 Q305,520 297,520 L257,520 Q249,520 249,512 L249,476.5 Q249,468.5 257,468.5 Z"/>
<path d="M259,471 L295,471 Q300.6,471 300.6,477 L300.6,503 Q300.6,509 295,509 L259,509 Q253.5,509 253.5,503"/>
<path d="M297.3,468 C298,458 302,452.5 310,452.4 C315,452.4 318,456 318.6,468"/>
<path d="M305,470.7 L344,470.7 Q350,470.7 350,477 L350,512 Q349,521 339,521 L321,521.3 Q315.5,520.5 314.5,514 Q313.5,508 307,508.5"/>
<path d="M330.6,474 L349.3,474 Q352.3,474 352.3,477 L352.3,499.2 Q352.3,502.2 349.3,502.2 L330.6,502.2 Q327.6,502.2 327.6,499.2 L327.6,477 Q327.6,474 330.6,474 Z"/>
<path d="M350,460 L350,536 M364.7,470.7 L364.7,520 M364.7,520 C375,522 395,522.5 417.4,518"/>
<path d="M411.8,470.7 L411.8,520 M419.7,471 L419.7,536 M419.7,471 L461.2,471 L461.2,520 L449,520"/>
<path d="M442.7,477.5 Q449,477.5 449,484 L449,505 Q449,511 443.5,511 Q437.7,511 437.7,505 L437.7,484 Q437.7,477.5 442.7,477.5 Z"/>
<path d="M419.7,486.4 L437.7,486.4 M419.7,503.3 L437.7,503.3"/>
<g transform="translate(0,1073) scale(1,-1)">
<path d="M257,468.5 L297,468.5 Q305,468.5 305,476.5 L305,512 Q305,520 297,520 L257,520 Q249,520 249,512 L249,476.5 Q249,468.5 257,468.5 Z"/>
<path d="M259,471 L295,471 Q300.6,471 300.6,477 L300.6,503 Q300.6,509 295,509 L259,509 Q253.5,509 253.5,503"/>
<path d="M297.3,468 C298,458 302,452.5 310,452.4 C315,452.4 318,456 318.6,468"/>
<path d="M305,470.7 L344,470.7 Q350,470.7 350,477 L350,512 Q349,521 339,521 L321,521.3 Q315.5,520.5 314.5,514 Q313.5,508 307,508.5"/>
<path d="M330.6,474 L349.3,474 Q352.3,474 352.3,477 L352.3,499.2 Q352.3,502.2 349.3,502.2 L330.6,502.2 Q327.6,502.2 327.6,499.2 L327.6,477 Q327.6,474 330.6,474 Z"/>
<path d="M350,460 L350,536 M364.7,470.7 L364.7,520 M364.7,520 C375,522 395,522.5 417.4,518"/>
<path d="M411.8,470.7 L411.8,520 M419.7,471 L419.7,536 M419.7,471 L461.2,471 L461.2,520 L449,520"/>
<path d="M442.7,477.5 Q449,477.5 449,484 L449,505 Q449,511 443.5,511 Q437.7,511 437.7,505 L437.7,484 Q437.7,477.5 442.7,477.5 Z"/>
<path d="M419.7,486.4 L437.7,486.4 M419.7,503.3 L437.7,503.3"/>
</g><path d="M443,521.5 Q449.5,521.5 449.5,527 L449.5,546 Q449.5,551 443.5,551 Q438,551 438,546 L438,527 Q438,521.5 443,521.5 Z"/></g>
<g class="ln"><path d="M413,536 C416,532 422,530 430,529.8 C438,529.8 442,532 442.2,536 C442,540 438,543 430,543.3 C422,543 416,540 413,536 Z"/></g>
<g id="rear" class="ln">

<path d="M906,420 C885,420.5 860,421.5 841.25,422.5 C837,423 835,423.5 833.4,424.8 C830,427 828.5,428.5 827.2,430.3 C824,436 821.5,441 819.4,446 C816,453 813,458 810,463 C807,468 804.5,472 802.2,475.6 C800,478 798,479.5 796,480.3"/>
<path d="M836.6,424.8 C832,433 826,443 820,453 C815,461 810.5,468 806.9,472.5"/>
<path d="M839.8,424.3 L835.9,436"/>
<path d="M906,432.7 C880,433 855,434.5 835.9,436"/>
<path d="M906,438 L847.5,439.7 C842,440.5 839.5,442 839,446 L839,463 C839.5,466.5 842,468.6 846,469 L853.75,469.4 L906,469.4"/>
<path d="M839,470.5 L906,470.5" style="stroke-width:2"/>
<path d="M836.9,425.7 C835.5,429.5 834.2,433 833,436.5 C831,441 829,445 827.1,449.2 C825.9,453.5 825.3,458 825.2,461.9 C825,465 824.5,467.5 824,469.5 C823.3,472 822.8,474 822.8,476 C823.5,485 825,494 827.2,500.6 C829.5,508 832,513 835,516.25 C837.5,520 840,523.5 842.8,524.8 C845,525.3 850,525.5 860,525.5 L906,525.6"/>
<path d="M822.5,473.3 L906,472.5"/>
<path d="M796,479.8 C800,477.5 804,476 806.9,475.6 C812,474.8 817,474.6 822.5,474.6 L906,474.8"/>
<path d="M796,486.6 C805,487 815,487.5 822.5,488.1 C840,489 858,490 869.4,491.25 C870.5,491.6 871,492 871,492 C866,496 862,498 856.9,499 C850,499.6 844,499.8 838,499.8 C825,500.5 815,502 806.9,503 L797.5,503.75 C796.5,500 796,495 796,488 Z"/>
<path d="M823,491 C850,491 880,491.2 906,491.25"/>
<path d="M844.4,505.3 C850,511 856,515 861.6,516.25 C866,517.5 872,517.8 877.2,517.8 L906,517.8"/>
<path d="M767.8,471 C767.5,468 768,466.5 769.4,466.25 C777,465 785,464 792.8,463.9 C794.5,464 795.2,466 795.2,469.4 L794.4,478.75 C794,481 793,482.5 791.25,482.6 C785,482.3 778,481.5 772.5,480.3 C769.5,479 768,476 767.8,471 Z"/>
<path d="M797.5,480.3 C795,483 793,485.5 791.25,488 C788.5,493 786.5,498 785,503.75 C783.5,510 782.7,515 782.7,519.4 C782,525 781.9,530 781.9,536 L781.9,606.6 Q781.9,613.6 788,613.6 L809,613.6 Q814.7,613.6 814.7,608 L814.7,583"/>
<path d="M797.5,485 C795.5,490 794.5,494 794.4,497.5 C793.5,503 793,508 792.8,511.6 C793,515 794,517.5 796,519.4"/>
<path d="M783.4,536.25 C785,550 788,568 791.25,580 C793,585 795,587 797.5,587 C800,587 802.5,586.8 803.75,586.25 C805,585 806,583 806.9,581.6 C808.5,580 810.5,579 813,578.4"/>
<path d="M906,516.7 L801,516.7 C797,517.5 796,525 796,537 C796,549 797,555.5 801,555.8 L906,554.2"/>
<path d="M801,516.7 C800,519 800.5,523 802.5,526.5 C804,528.3 806,528.8 808,528.8 L906,530"/>
<path d="M906,560.5 L861.6,560.5 C857,565 852,569 847.5,572.2 M847.5,574.5 L906,574.5 M853.75,578.4 L906,578.4"/>
<path d="M816,576.9 C826,576.3 838,576 847.5,576.1 C851,577 854,578.5 855.3,580 C854,581.5 850,582 846,582 L816,582 C812,582 810,581 810,580 C811,578 813,577 816,576.9 Z"/>
<path d="M815.5,582 L815.5,594 L841.25,594 C843,593.5 844.5,592 846,591 L906,591"/>
<path d="M821.8,576.6 A13.3,13.3 0 1 1 843.6,576.6"/>
<path d="M825.9,576.6 A10.2,10.2 0 1 1 839.5,576.6"/>
<circle cx="832.7" cy="569" r="5.9"/>

<g transform="translate(1812,0) scale(-1,1)">
<path d="M906,420 C885,420.5 860,421.5 841.25,422.5 C837,423 835,423.5 833.4,424.8 C830,427 828.5,428.5 827.2,430.3 C824,436 821.5,441 819.4,446 C816,453 813,458 810,463 C807,468 804.5,472 802.2,475.6 C800,478 798,479.5 796,480.3"/>
<path d="M836.6,424.8 C832,433 826,443 820,453 C815,461 810.5,468 806.9,472.5"/>
<path d="M839.8,424.3 L835.9,436"/>
<path d="M906,432.7 C880,433 855,434.5 835.9,436"/>
<path d="M906,438 L847.5,439.7 C842,440.5 839.5,442 839,446 L839,463 C839.5,466.5 842,468.6 846,469 L853.75,469.4 L906,469.4"/>
<path d="M839,470.5 L906,470.5" style="stroke-width:2"/>
<path d="M836.9,425.7 C835.5,429.5 834.2,433 833,436.5 C831,441 829,445 827.1,449.2 C825.9,453.5 825.3,458 825.2,461.9 C825,465 824.5,467.5 824,469.5 C823.3,472 822.8,474 822.8,476 C823.5,485 825,494 827.2,500.6 C829.5,508 832,513 835,516.25 C837.5,520 840,523.5 842.8,524.8 C845,525.3 850,525.5 860,525.5 L906,525.6"/>
<path d="M822.5,473.3 L906,472.5"/>
<path d="M796,479.8 C800,477.5 804,476 806.9,475.6 C812,474.8 817,474.6 822.5,474.6 L906,474.8"/>
<path d="M796,486.6 C805,487 815,487.5 822.5,488.1 C840,489 858,490 869.4,491.25 C870.5,491.6 871,492 871,492 C866,496 862,498 856.9,499 C850,499.6 844,499.8 838,499.8 C825,500.5 815,502 806.9,503 L797.5,503.75 C796.5,500 796,495 796,488 Z"/>
<path d="M823,491 C850,491 880,491.2 906,491.25"/>
<path d="M844.4,505.3 C850,511 856,515 861.6,516.25 C866,517.5 872,517.8 877.2,517.8 L906,517.8"/>
<path d="M767.8,471 C767.5,468 768,466.5 769.4,466.25 C777,465 785,464 792.8,463.9 C794.5,464 795.2,466 795.2,469.4 L794.4,478.75 C794,481 793,482.5 791.25,482.6 C785,482.3 778,481.5 772.5,480.3 C769.5,479 768,476 767.8,471 Z"/>
<path d="M797.5,480.3 C795,483 793,485.5 791.25,488 C788.5,493 786.5,498 785,503.75 C783.5,510 782.7,515 782.7,519.4 C782,525 781.9,530 781.9,536 L781.9,606.6 Q781.9,613.6 788,613.6 L809,613.6 Q814.7,613.6 814.7,608 L814.7,583"/>
<path d="M797.5,485 C795.5,490 794.5,494 794.4,497.5 C793.5,503 793,508 792.8,511.6 C793,515 794,517.5 796,519.4"/>
<path d="M783.4,536.25 C785,550 788,568 791.25,580 C793,585 795,587 797.5,587 C800,587 802.5,586.8 803.75,586.25 C805,585 806,583 806.9,581.6 C808.5,580 810.5,579 813,578.4"/>
<path d="M906,516.7 L801,516.7 C797,517.5 796,525 796,537 C796,549 797,555.5 801,555.8 L906,554.2"/>
<path d="M801,516.7 C800,519 800.5,523 802.5,526.5 C804,528.3 806,528.8 808,528.8 L906,530"/>
<path d="M906,560.5 L861.6,560.5 C857,565 852,569 847.5,572.2 M847.5,574.5 L906,574.5 M853.75,578.4 L906,578.4"/>
<path d="M816,576.9 C826,576.3 838,576 847.5,576.1 C851,577 854,578.5 855.3,580 C854,581.5 850,582 846,582 L816,582 C812,582 810,581 810,580 C811,578 813,577 816,576.9 Z"/>
<path d="M815.5,582 L815.5,594 L841.25,594 C843,593.5 844.5,592 846,591 L906,591"/>
<path d="M821.8,576.6 A13.3,13.3 0 1 1 843.6,576.6"/>
<path d="M825.9,576.6 A10.2,10.2 0 1 1 839.5,576.6"/>
<circle cx="832.7" cy="569" r="5.9"/>
</g>
<path d="M902.6,427.8 L906,422 L909.4,427.8 Z"/>
</g>
<g><path class="d" d="M175,62.6 L272,62.6 M0,260 L288,260 M6.4,260 L6.4,300 M221.7,260 L221.7,300 M236.7,260 L236.7,336"/>
<path class="d" d="M266,66 L266,145 M266,177 L266,258"/>
<path class="ar" d="M266.0,65.3 L268.2,73.3 L263.8,73.3 Z"/>
<path class="ar" d="M266.0,259.5 L263.8,251.5 L268.2,251.5 Z"/>
<text transform="translate(270.3,161) rotate(-90)" text-anchor="middle">1442</text>
<path class="d" d="M6.4,296.5 L95.2,296.5 M130.8,296.5 L221.7,296.5"/>
<text x="113" y="300.8" text-anchor="middle">1595</text>
<path class="ar" d="M6.4,296.5 L14.4,294.3 L14.4,298.7 Z"/>
<path class="ar" d="M221.7,296.5 L213.7,298.7 L213.7,294.3 Z"/>
<path class="d" d="M-7.7,332 L94.7,332 M130.3,332 L236.7,332"/>
<text x="112.5" y="336.3" text-anchor="middle">1852</text>
<path class="ar" d="M-7.7,332.0 L0.3,329.8 L0.3,334.2 Z"/>
<path class="ar" d="M236.7,332.0 L228.7,334.2 L228.7,329.8 Z"/>
<path class="d" d="M391.7,259.8 L1022.2,259.8 M391.7,259.8 L391.7,334 M508,259.8 L508,298 M882,259.8 L882,298 M1022.2,259.8 L1022.2,334"/>
<path class="d" d="M391.7,297.2 L431.1,297.2 M459.9,297.2 L506,297.2"/>
<text x="445.5" y="301.5" text-anchor="middle">862</text>
<path class="ar" d="M391.7,297.2 L399.7,295.0 L399.7,299.4 Z"/>
<path class="ar" d="M506.0,297.2 L498.0,299.4 L498.0,295.0 Z"/>
<path class="d" d="M510,297.2 L676.7,297.2 M712.3,297.2 L880,297.2"/>
<text x="694.5" y="301.5" text-anchor="middle">2856</text>
<path class="ar" d="M510.0,297.2 L518.0,295.0 L518.0,299.4 Z"/>
<path class="ar" d="M880.0,297.2 L872.0,299.4 L872.0,295.0 Z"/>
<path class="d" d="M884,297.2 L934.6,297.2 M970.2,297.2 L1022.2,297.2"/>
<text x="952.4" y="301.5" text-anchor="middle">1065</text>
<path class="ar" d="M884.0,297.2 L892.0,295.0 L892.0,299.4 Z"/>
<path class="ar" d="M1022.2,297.2 L1014.2,299.4 L1014.2,295.0 Z"/>
<path class="d" d="M391.7,333.2 L677.2,333.2 M712.8,333.2 L1022.2,333.2"/>
<text x="695" y="337.5" text-anchor="middle">4783</text>
<path class="ar" d="M391.7,333.2 L399.7,331.0 L399.7,335.4 Z"/>
<path class="ar" d="M1022.2,333.2 L1014.2,335.4 L1014.2,331.0 Z"/>
<path class="dk" d="M737.7,80 L733.5,99 M728.5,121 L713.3,191.7"/>
<path class="ar" d="M737.7,79.4 L738.2,87.7 L733.9,86.8 Z"/>
<path class="ar" d="M713.3,191.7 L712.8,183.4 L717.1,184.3 Z"/>
<text class="dt" transform="translate(735,108.1) rotate(-62)" text-anchor="middle">1024</text>
<path class="dk" d="M848.4,90.2 L845.5,101 M839,126 L823,180"/>
<path class="ar" d="M848.4,90.2 L848.3,98.5 L844.1,97.3 Z"/>
<path class="ar" d="M823.0,180.0 L823.1,171.7 L827.3,172.9 Z"/>
<rect transform="translate(847.8,114.2) rotate(-74)" x="-12" y="-10" width="24" height="12" fill="#fff"/>
<text class="dt" transform="translate(847.8,114.2) rotate(-74)" text-anchor="middle">944</text>
<path class="dk" d="M254.5,433 L254.5,520 M254.5,552 L254.5,638"/>
<path class="ar" d="M254.5,433.0 L256.7,441.0 L252.3,441.0 Z"/>
<path class="ar" d="M254.5,638.5 L252.3,630.5 L256.7,630.5 Z"/>
<text class="dt" transform="translate(258.8,536) rotate(-90)" text-anchor="middle">1470</text>
<path class="dk" d="M392,435 L392,520 M392,552 L392,637"/>
<path class="ar" d="M392.0,435.0 L394.2,443.0 L389.8,443.0 Z"/>
<path class="ar" d="M392.0,637.5 L389.8,629.5 L394.2,629.5 Z"/>
<text class="dt" transform="translate(396.3,536) rotate(-90)" text-anchor="middle">1445</text>
<path class="d" d="M738.6,615.2 L1024,615.2 M767.3,615.2 L767.3,690 M796.6,615.2 L796.6,653 M1012.8,615.2 L1012.8,653"/>
<path class="d" d="M796.6,649.7 L888.8,649.7 M924.4,649.7 L1012.8,649.7"/>
<text x="906.6" y="654.0" text-anchor="middle">1623</text>
<path class="ar" d="M796.6,649.7 L804.6,647.5 L804.6,651.9 Z"/>
<path class="ar" d="M1012.8,649.7 L1004.8,651.9 L1004.8,647.5 Z"/>
<path class="d" d="M767.3,687 L888.2,687 M923.8,687 L1045,687"/>
<text x="906" y="691.3" text-anchor="middle">2073</text>
<path class="ar" d="M767.3,687.0 L775.3,684.8 L775.3,689.2 Z"/>
<path class="ar" d="M1045.0,687.0 L1037.0,689.2 L1037.0,684.8 Z"/></g>
</svg>
</body></html>
